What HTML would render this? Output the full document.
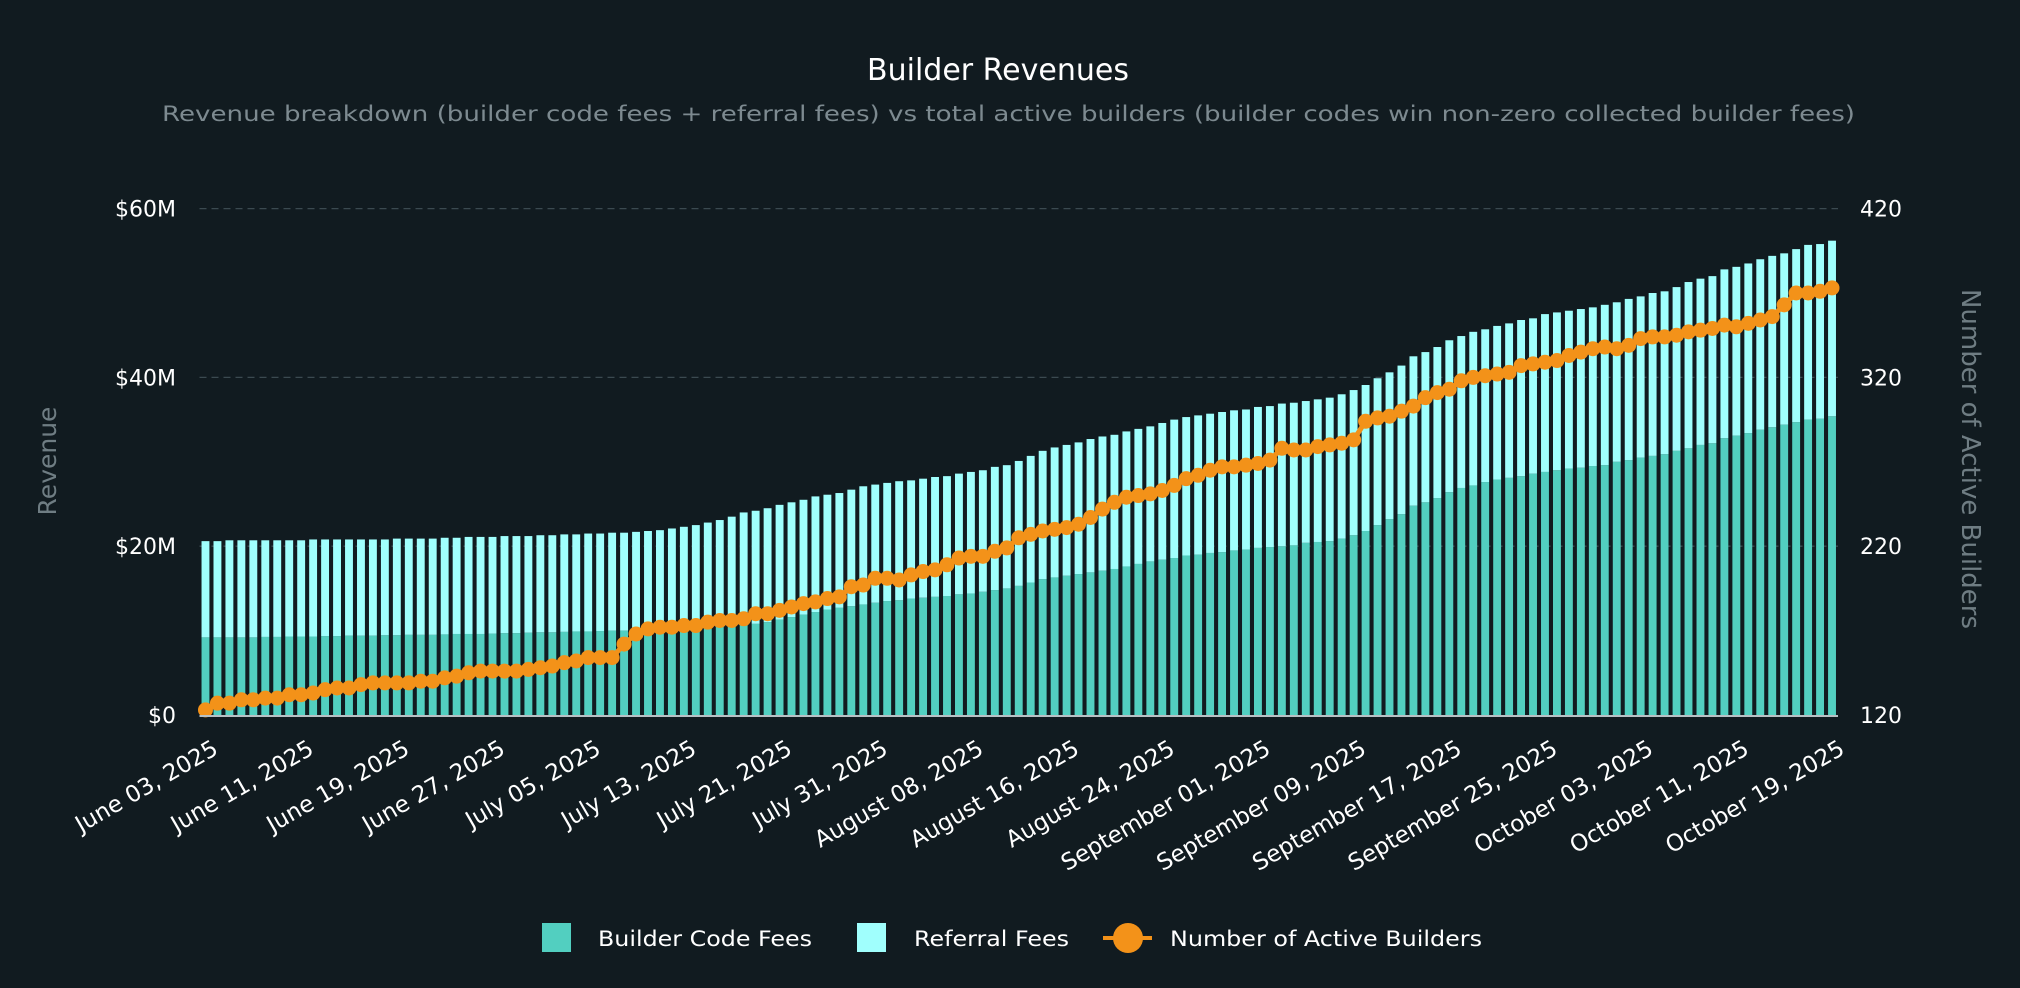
<!DOCTYPE html>
<html><head><meta charset="utf-8"><style>
html,body{margin:0;padding:0;background:#111b20;}
svg{display:block;}
text{font-family:"DejaVu Sans","Liberation Sans",sans-serif;}
</style></head><body>
<svg id="chart" width="2020" height="988" viewBox="0 0 2020 988" xmlns="http://www.w3.org/2000/svg">
<rect width="2020" height="988" fill="#111b20"/>
<text x="998" y="80" fill="#ffffff" font-size="30" text-anchor="middle">Builder Revenues</text>
<text x="162" y="121" fill="#7d8a90" font-size="21" textLength="1693" lengthAdjust="spacingAndGlyphs">Revenue breakdown (builder code fees + referral fees) vs total active builders (builder codes win non-zero collected builder fees)</text>
<g id="grid"></g><g id="bars"></g><g id="line"></g><g id="axes"></g>
<text transform="translate(56,461) rotate(-90)" fill="#6f7d83" font-size="25" text-anchor="middle">Revenue</text>
<text transform="translate(1962,459) rotate(90)" fill="#6f7d83" font-size="26" text-anchor="middle" textLength="340" lengthAdjust="spacingAndGlyphs">Number of Active Builders</text>
<g>
<rect x="542" y="923" width="29" height="29" fill="#52cfc0"/>
<text x="598" y="946" fill="#ffffff" font-size="21" textLength="214" lengthAdjust="spacingAndGlyphs">Builder Code Fees</text>
<rect x="857" y="923" width="29" height="29" fill="#a0fffd"/>
<text x="914" y="946" fill="#ffffff" font-size="21" textLength="155" lengthAdjust="spacingAndGlyphs">Referral Fees</text>
<line x1="1103" y1="938" x2="1152" y2="938" stroke="#f39219" stroke-width="4"/>
<circle cx="1128" cy="938" r="15" fill="#f39219"/>
<text x="1170" y="946" fill="#ffffff" font-size="21" textLength="312" lengthAdjust="spacingAndGlyphs">Number of Active Builders</text>
</g>
</svg>
<script>
const builderCodeFees = [9.2,9.2,9.2,9.2,9.2,9.25,9.25,9.3,9.3,9.3,9.35,9.35,9.4,9.4,9.4,9.45,9.45,9.5,9.5,9.5,9.55,9.6,9.6,9.6,9.65,9.7,9.7,9.75,9.8,9.8,9.85,9.9,9.9,9.95,10.0,10.0,10.05,10.1,10.15,10.2,10.25,10.3,10.35,10.45,10.5,
10.6,10.8,11.0,11.3,11.6,11.9,12.2,12.5,
12.7,12.9,13.1,13.3,13.5,13.6,13.8,13.9,14.0,14.1,14.3,14.4,14.6,14.8,15.0,15.3,15.7,16.1,16.3,16.5,16.7,16.9,17.1,17.3,17.6,17.9,18.2,18.4,18.6,18.9,19.0,19.2,19.3,19.5,19.6,19.8,19.9,20.0,
20.1,20.4,20.5,20.6,20.9,21.3,21.8,22.5,23.2,23.8,24.8,25.2,25.7,26.4,26.9,27.2,27.6,27.9,28.1,28.3,28.6,28.8,29.0,29.2,29.3,29.5,29.6,30.0,30.2,30.5,30.7,30.9,31.3,31.6,32.0,32.2,32.8,33.1,33.4,33.8,34.1,34.4,34.7,35.0,35.1,35.4];
const totalRevenue = [20.6,20.6,20.7,20.7,20.7,20.7,20.7,20.7,20.7,20.8,20.8,20.8,20.8,20.8,20.8,20.8,20.9,20.9,20.9,20.9,21.0,21.0,21.1,21.1,21.1,21.2,21.2,21.2,21.3,21.3,21.4,21.4,21.5,21.5,21.6,21.6,21.7,21.8,21.9,22.1,22.3,22.5,22.8,23.1,23.5,
24.0,24.2,24.5,24.9,25.2,25.5,25.9,26.1,26.3,26.7,27.1,27.3,27.5,27.7,27.8,28.0,28.2,28.3,28.6,28.8,29.0,29.4,29.6,30.1,30.7,31.3,31.7,32.0,32.3,32.7,33.0,33.2,33.6,33.9,34.2,34.6,35.0,35.3,35.5,35.7,35.9,36.1,36.2,36.5,36.6,36.9,
37.0,37.2,37.4,37.6,38.0,38.5,39.1,39.9,40.6,41.4,42.5,43.0,43.6,44.4,44.9,45.4,45.7,46.1,46.4,46.8,47.0,47.5,47.7,47.9,48.1,48.3,48.6,48.9,49.3,49.6,50.0,50.2,50.7,51.3,51.7,52.0,52.8,53.1,53.5,54.0,54.4,54.7,55.2,55.7,55.8,56.2];
const activeBuilders = [123,127,127,129,129,130,130,132,132,133,135,136,136,138,139,139,139,139,140,140,142,143,145,146,146,146,146,147,148,149,151,152,154,154,154,162,168,171,172,172,173,173,175,176,176,
177,180,180,182,184,186,187,189,190,196,197,201,201,200,203,205,206,209,213,214,214,217,219,225,227,229,230,231,233,237,242,246,249,250,251,253,256,260,262,265,267,267,268,269,271,278,
277,277,279,280,281,283,294,296,297,300,303,308,311,313,318,320,321,322,323,327,328,329,330,333,335,337,338,337,339,343,344,344,345,347,348,349,351,350,352,354,356,363,370,370,371,373];
const revenueTicks = [0,20,40,60];
const revenueTickLabels = ["$0","$20M","$40M","$60M"];
const builderTicks = [120,220,320,420];
const skippedDates = ["2025-07-25","2025-07-26"];
const startDate = "2025-06-03";
const monthNames = ["January","February","March","April","May","June","July","August","September","October","November","December"];

const NS = "http://www.w3.org/2000/svg";
const categories = [];
(function(){
  let d = new Date(startDate+"T00:00:00Z");
  while (categories.length < totalRevenue.length) {
    const iso = d.toISOString().slice(0,10);
    if (skippedDates.indexOf(iso) < 0) categories.push(iso);
    d = new Date(d.getTime()+86400000);
  }
})();
function fmtDate(iso){ const p = iso.split("-"); return monthNames[+p[1]-1]+" "+p[2]+", "+p[0]; }

const X0 = 199.5, X1 = 1838, Y0 = 715, Y1 = 208.6;
const band = (X1 - X0) / categories.length;
function xC(i){ return X0 + band*(i+0.5); }
function yRev(v){ return Y0 - (v/60)*(Y0-Y1); }
function yB(b){ return Y0 - ((b-120)/300)*(Y0-Y1); }
function mk(tag, attrs, parent){ const e = document.createElementNS(NS, tag); for (const k in attrs) e.setAttribute(k, attrs[k]); parent.appendChild(e); return e; }

const grid = document.getElementById("grid");
revenueTicks.forEach(function(v,i){
  if (v === 0) return;
  const l = mk("line", {x1:X0, x2:X1, y1:yRev(v), y2:yRev(v), stroke:"#3b4a50", "stroke-width":1.3, "stroke-dasharray":"7,5"}, grid);
  
  
});

const bars = document.getElementById("bars");
const bw = band*0.66;
categories.forEach(function(c,i){
  const code = builderCodeFees[i], ref = totalRevenue[i] - builderCodeFees[i];
  const r1 = mk("rect", {x:xC(i)-bw/2, width:bw, y:yRev(code), height:Y0-yRev(code), fill:"#52cfc0"}, bars);
  
  
  const r2 = mk("rect", {x:xC(i)-bw/2, width:bw, y:yRev(code+ref), height:yRev(code)-yRev(code+ref), fill:"#a0fffd"}, bars);
  
  
});

const lineG = document.getElementById("line");
const pts = activeBuilders.map(function(b,i){ return xC(i).toFixed(1)+","+yB(b).toFixed(1); }).join(" ");
const pl = mk("polyline", {points:pts, fill:"none", stroke:"#f39219", "stroke-width":5, "stroke-linejoin":"round"}, lineG);


activeBuilders.forEach(function(b,i){
  const m = mk("circle", {cx:xC(i), cy:yB(b), r:7.5, fill:"#f39219"}, lineG);
  
  
});

const axes = document.getElementById("axes");
const ax = mk("line", {x1:X0, x2:X1, y1:Y0+1, y2:Y0+1, stroke:"#b8c0c4", "stroke-width":2}, axes);


revenueTicks.forEach(function(v,i){
  const t = mk("text", {x:176, y:yRev(v)+8, fill:"#ffffff", "font-size":22, "text-anchor":"end"}, axes);
  t.textContent = revenueTickLabels[i];
  
  
});
builderTicks.forEach(function(v){
  const t = mk("text", {x:1860, y:yB(v)+8, fill:"#ffffff", "font-size":22}, axes);
  t.textContent = String(v);
  
  
});
categories.forEach(function(c,i){
  if (i % 8 !== 0) return;
  const t = mk("text", {transform:"translate("+(xC(i)+6)+","+(Y0+24)+") rotate(-30)", fill:"#ffffff", "font-size":23, "text-anchor":"end", dy:"0.7em"}, axes);
  t.textContent = fmtDate(c);
  
  
});
</script>
</body></html>
